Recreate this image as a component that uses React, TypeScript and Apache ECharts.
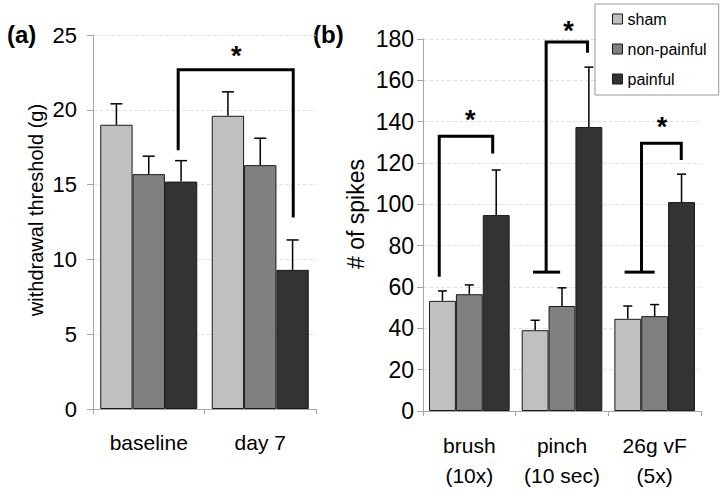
import React, { useEffect, useRef } from "react";
import * as echarts from "echarts";

const groups = ["sham", "non-painful", "painful"];
const colors = ["#c0c0c0", "#808080", "#333333"];

const catsA = ["baseline", "day 7"];
const meanShamA = [19.0, 19.6];
const meanNonPainfulA = [15.7, 16.3];
const meanPainfulA = [15.2, 9.3];
const errShamA = [1.4, 1.6];
const errNonPainfulA = [1.2, 1.8];
const errPainfulA = [1.4, 2.0];

const catsB = ["brush\n(10x)", "pinch\n(10 sec)", "26g vF\n(5x)"];
const meanShamB = [53.3, 39.1, 44.6];
const meanNonPainfulB = [56.5, 50.8, 45.9];
const meanPainfulB = [94.8, 137.4, 101.1];
const errShamB = [4.8, 4.8, 6.2];
const errNonPainfulB = [4.5, 8.8, 5.6];
const errPainfulB = [21.8, 29.0, 13.5];

const nameA = "withdrawal threshold (g)";
const nameB = "# of spikes";

// significance brackets: polylines of [category, offset in bar widths, value]
const bracketsA = [
  {
    lines: [[[0, 0.91, 17.3], [0, 0.91, 22.67], [1, 1.02, 22.67], [1, 1.02, 12.8]]],
    star: [0, 2.71, 23.8],
  },
];
const bracketsB = [
  {
    lines: [[[0, -1.12, 64.9], [0, -1.12, 133], [0, 0.87, 133], [0, 0.87, 124.6]]],
    star: [0, 0.03, 142.2],
  },
  {
    lines: [
      [[1, -0.59, 67.2], [1, -0.59, 178.5], [1, 0.95, 178.5], [1, 0.95, 173.4]],
      [[1, -1.08, 67.2], [1, -0.07, 67.2]],
    ],
    star: [1, 0.24, 185.3],
  },
  {
    lines: [
      [[2, -0.49, 67.2], [2, -0.49, 129.5], [2, 0.99, 129.5], [2, 0.99, 121.4]],
      [[2, -1.12, 67.2], [2, 0, 67.2]],
    ],
    star: [2, 0.27, 138.8],
  },
];

const GAP = 0.13;
const FONT = "'Liberation Sans', Arial, sans-serif";

function errData(means: number[][], errs: number[][]) {
  const out: number[][] = [];
  means.forEach((m, g) => m.forEach((v, c) => out.push([c, v, errs[g][c], g])));
  return out;
}

function errRender(cap: number) {
  return (params: any, api: any) => {
    const cat = api.value(0);
    const mean = api.value(1);
    const err = api.value(2);
    const g = api.value(3);
    const bw = api.size([1, 0])[0];
    const w = (bw * (1 - GAP)) / 3;
    const base = api.coord([cat, mean]);
    const top = api.coord([cat, mean + err]);
    const x = base[0] + (g - 1) * w;
    const st = { stroke: "#000", lineWidth: 1.5 };
    return {
      type: "group",
      children: [
        { type: "line", shape: { x1: x, y1: base[1], x2: x, y2: top[1] }, style: st },
        { type: "line", shape: { x1: x - cap / 2, y1: top[1], x2: x + cap / 2, y2: top[1] }, style: st },
      ],
    };
  };
}

function bracketRender(list: any[]) {
  return (params: any, api: any) => {
    const b = list[params.dataIndex];
    const bw = api.size([1, 0])[0];
    const w = (bw * (1 - GAP)) / 3;
    const pt = (p: number[]) => {
      const c = api.coord([p[0], p[2]]);
      return [c[0] + p[1] * w, c[1]];
    };
    const children: any[] = b.lines.map((ln: number[][]) => ({
      type: "polyline",
      shape: { points: ln.map(pt) },
      style: { stroke: "#000", lineWidth: 3, fill: null, lineJoin: "miter" },
    }));
    const s = pt(b.star);
    children.push({
      type: "text",
      style: {
        text: "*",
        x: s[0],
        y: s[1] + 3,
        align: "center",
        verticalAlign: "middle",
        fontSize: 27,
        fontWeight: "bold",
        fontFamily: FONT,
        fill: "#000",
      },
    });
    return { type: "group", children };
  };
}

function barSeries(name: string, data: number[], idx: number, axis: number) {
  return {
    name,
    type: "bar",
    xAxisIndex: axis,
    yAxisIndex: axis,
    data,
    barGap: "0%",
    barCategoryGap: GAP * 100 + "%",
    itemStyle: { color: colors[idx], borderColor: "#1a1a1a", borderWidth: 1 },
    z: 2,
  };
}

const axisGray = "#a6a6a6";

function yAxis(gridIndex: number, max: number, interval: number, margin: number, fontSize: number) {
  return {
    type: "value",
    gridIndex,
    min: 0,
    max,
    interval,
    axisLine: { show: true, lineStyle: { color: axisGray, width: 1 } },
    axisTick: { show: true, length: 6, lineStyle: { color: axisGray } },
    axisLabel: { fontSize, color: "#000", margin, fontFamily: FONT },
    splitLine: { show: true, lineStyle: { color: "#e2e2e2", type: "dashed" } },
  };
}

function xAxis(gridIndex: number, data: string[], margin: number) {
  return {
    type: "category",
    gridIndex,
    data,
    axisLine: { show: true, lineStyle: { color: axisGray, width: 1 } },
    axisTick: { show: true, length: 5, alignWithLabel: false, lineStyle: { color: axisGray } },
    axisLabel: { fontSize: 21, lineHeight: 30, color: "#000", margin, fontFamily: FONT, interval: 0 },
    splitLine: { show: false },
  };
}

export default function App() {
  const ref = useRef<HTMLDivElement>(null);
  useEffect(() => {
    if (!ref.current) return;
    const chart = echarts.init(ref.current, undefined, { renderer: "svg" });
    const option: any = {
      animation: false,
      backgroundColor: "#fff",
      textStyle: { fontFamily: FONT },
      grid: [
        { left: 93, top: 35, width: 223, height: 374 },
        { left: 423, top: 39, width: 278, height: 372 },
      ],
      legend: {
        data: groups,
        orient: "vertical",
        left: 595,
        top: 4,
        itemWidth: 10,
        itemHeight: 10,
        itemGap: 14,
        padding: [7, 12, 8, 17],
        borderColor: "#999",
        borderWidth: 1,
        backgroundColor: "#fff",
        icon: "rect",
        textStyle: { fontSize: 16, lineHeight: 16, color: "#000", fontFamily: FONT },
        itemStyle: { borderColor: "#1a1a1a", borderWidth: 1 },
      },
      xAxis: [xAxis(0, catsA, 18), xAxis(1, catsB, 19)],
      yAxis: [yAxis(0, 25, 5, 16, 22), yAxis(1, 180, 20, 9, 23)],
      graphic: [
        { type: "text", left: 7, top: 22, style: { text: "(a)", fontSize: 24, fontWeight: "bold", fill: "#000", fontFamily: FONT } },
        { type: "text", left: 313, top: 22, style: { text: "(b)", fontSize: 24, fontWeight: "bold", fill: "#000", fontFamily: FONT } },
        {
          type: "text",
          x: 36,
          y: 210,
          rotation: Math.PI / 2,
          style: { text: nameA, fontSize: 20, fill: "#000", fontFamily: FONT, align: "center", verticalAlign: "middle" },
        },
        {
          type: "text",
          x: 356,
          y: 214,
          rotation: Math.PI / 2,
          style: { text: nameB, fontSize: 23, fill: "#000", fontFamily: FONT, align: "center", verticalAlign: "middle" },
        },
      ],
      series: [
        barSeries(groups[0], meanShamA, 0, 0),
        barSeries(groups[1], meanNonPainfulA, 1, 0),
        barSeries(groups[2], meanPainfulA, 2, 0),
        barSeries(groups[0], meanShamB, 0, 1),
        barSeries(groups[1], meanNonPainfulB, 1, 1),
        barSeries(groups[2], meanPainfulB, 2, 1),
        {
          type: "custom",
          xAxisIndex: 0,
          yAxisIndex: 0,
          renderItem: errRender(12),
          data: errData([meanShamA, meanNonPainfulA, meanPainfulA], [errShamA, errNonPainfulA, errPainfulA]),
          encode: { x: 0, y: 1 },
          z: 1,
          clip: false,
          silent: true,
        },
        {
          type: "custom",
          xAxisIndex: 1,
          yAxisIndex: 1,
          renderItem: errRender(9),
          data: errData([meanShamB, meanNonPainfulB, meanPainfulB], [errShamB, errNonPainfulB, errPainfulB]),
          encode: { x: 0, y: 1 },
          z: 1,
          clip: false,
          silent: true,
        },
        {
          type: "custom",
          xAxisIndex: 0,
          yAxisIndex: 0,
          renderItem: bracketRender(bracketsA),
          data: bracketsA.map((b) => [b.star[0], b.star[2]]),
          encode: { x: 0, y: 1 },
          z: 5,
          clip: false,
          silent: true,
        },
        {
          type: "custom",
          xAxisIndex: 1,
          yAxisIndex: 1,
          renderItem: bracketRender(bracketsB),
          data: bracketsB.map((b) => [b.star[0], b.star[2]]),
          encode: { x: 0, y: 1 },
          z: 5,
          clip: false,
          silent: true,
        },
      ],
    };
    chart.setOption(option);
    return () => chart.dispose();
  }, []);
  return <div ref={ref} style={{ position: "fixed", left: 0, top: 0, width: 721, height: 493 }} />;
}
